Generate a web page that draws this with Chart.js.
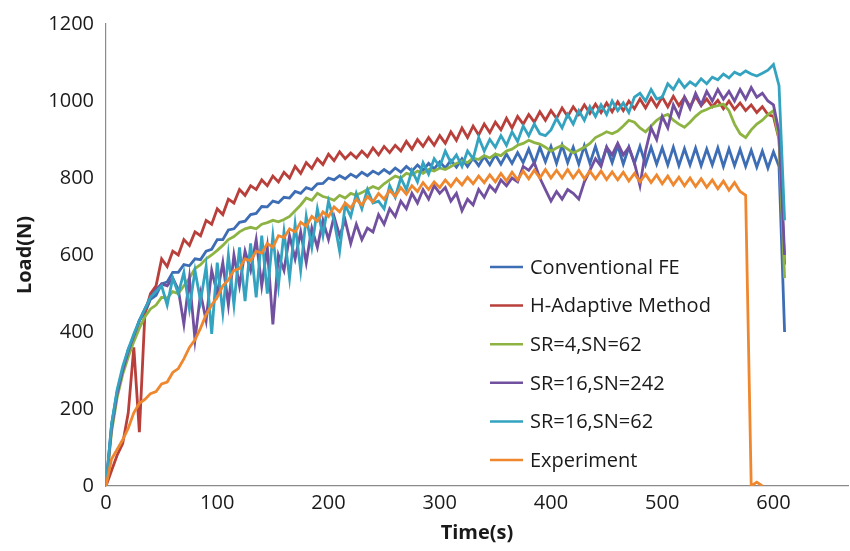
<!DOCTYPE html>
<html>
<head>
<meta charset="utf-8">
<script src="https://cdn.jsdelivr.net/npm/chart.js@4/dist/chart.umd.min.js"></script>
<style>
  body { margin: 0; background: #fff; }
  #wrap { width: 850px; height: 551px; }
</style>
</head>
<body>
<div id="wrap"><canvas id="loadChart"></canvas></div>
<script>
// time in seconds (5 s sampling)
var time = [
  0,5,10,15,20,25,30,35,40,45, 50,55,60,65,70,75,80,85,90,95,
  100,105,110,115,120,125,130,135,140,145, 150,155,160,165,170,175,180,185,190,195,
  200,205,210,215,220,225,230,235,240,245, 250,255,260,265,270,275,280,285,290,295,
  300,305,310,315,320,325,330,335,340,345, 350,355,360,365,370,375,380,385,390,395,
  400,405,410,415,420,425,430,435,440,445, 450,455,460,465,470,475,480,485,490,495,
  500,505,510,515,520,525,530,535,540,545, 550,555,560,565,570,575,580,585,590,595,
  600,605,610
];

var conventionalFE = [
  0,160,245,300,355,385,430,450,485,495,
  525,530,555,555,575,572,590,588,610,615,
  640,640,665,668,685,688,705,708,726,725,
  740,736,750,748,765,760,775,770,785,786,
  800,795,806,798,810,802,815,806,818,810,
  822,812,826,815,830,818,834,820,838,824,
  842,826,846,828,850,830,852,832,856,834,
  860,836,862,838,866,840,875,838,880,842,
  882,838,885,840,880,836,884,838,882,836,
  880,840,884,836,880,838,882,835,880,836,
  878,834,880,832,876,834,878,832,875,834,
  878,830,876,832,874,830,872,828,870,826,
  868,830,400
];

var hAdaptive = [
  0,40,80,110,190,360,140,450,500,520,
  590,570,610,600,640,625,660,650,690,680,
  720,705,745,735,770,755,780,770,795,780,
  805,790,815,800,830,812,840,825,850,835,
  862,845,868,850,865,852,870,855,878,860,
  882,866,885,870,895,875,900,882,905,885,
  910,890,920,898,930,905,935,912,940,918,
  945,925,955,930,960,940,965,945,972,950,
  975,955,982,960,985,965,990,968,992,970,
  995,972,998,975,1000,980,1005,982,1008,985,
  1010,985,1012,988,1010,985,1012,988,1005,985,
  1002,980,1000,978,995,975,990,970,985,965,
  960,900,575
];

var sr4sn62 = [
  0,140,230,290,335,375,410,440,460,470,
  490,488,505,500,520,540,565,575,590,600,
  612,625,640,648,660,668,672,668,680,684,
  690,686,692,700,715,730,748,742,760,752,
  748,742,755,748,760,755,762,770,778,772,
  785,795,805,800,812,808,818,812,822,818,
  826,822,830,838,845,840,852,848,858,852,
  862,858,870,875,885,890,898,892,888,880,
  870,878,885,875,865,872,880,890,905,912,
  920,915,922,935,950,945,930,920,935,950,
  960,965,950,940,932,945,960,972,978,985,
  988,992,975,940,915,905,925,940,950,965,
  975,900,540
];

var sr16sn242 = [
  0,150,240,300,350,390,430,460,490,510,
  525,520,540,510,420,540,380,500,430,560,
  500,580,470,600,520,610,560,640,520,620,
  420,600,560,650,590,660,580,670,620,690,
  640,700,650,690,630,680,640,670,660,705,
  680,720,700,740,720,760,735,770,745,780,
  760,775,740,760,715,745,730,770,750,780,
  765,795,780,800,790,830,820,840,800,770,
  740,765,745,770,760,745,790,820,850,830,
  880,860,890,860,880,840,780,870,930,900,
  960,930,990,960,1010,980,1020,990,1025,1000,
  1030,1005,1025,1000,1030,1005,1035,1010,1020,1000,
  990,920,600
];

var sr16sn62 = [
  0,160,250,310,355,395,430,460,490,505,
  520,470,540,500,555,460,560,480,570,395,
  580,450,600,470,620,480,630,490,650,500,
  650,520,660,540,680,560,700,620,720,650,
  740,690,610,730,700,760,720,770,735,740,
  720,780,750,800,770,820,790,840,810,850,
  830,870,840,860,830,870,850,905,870,900,
  880,910,885,920,895,935,910,940,915,910,
  925,955,930,965,940,975,950,985,960,990,
  965,1000,975,995,970,1010,1020,1000,1030,1005,
  1010,1045,1030,1055,1035,1050,1040,1058,1045,1062,
  1055,1070,1060,1075,1068,1078,1070,1065,1072,1080,
  1095,1040,690
];

var experiment = [
  0,70,95,120,150,190,215,225,240,245,
  265,270,295,305,330,360,380,410,445,470,
  490,520,535,560,565,590,585,610,605,630,
  620,650,645,668,660,685,675,700,688,712,
  700,725,712,735,722,745,730,752,738,760,
  745,768,752,775,758,780,765,788,770,790,
  775,795,778,798,782,802,785,805,788,808,
  790,812,792,815,795,818,798,820,800,822,
  800,820,800,822,800,820,798,818,798,818,
  796,816,795,815,792,812,790,810,788,808,
  785,805,782,802,780,800,778,798,776,795,
  772,792,768,788,765,755,0,10,0
];

var seriesNames = ["Conventional FE", "H-Adaptive Method", "SR=4,SN=62", "SR=16,SN=242", "SR=16,SN=62", "Experiment"];
var seriesColors = ["#3D6DB4", "#B83F3A", "#8DB443", "#7150A0", "#33A3C0", "#EF872E"];
var seriesValues = [conventionalFE, hAdaptive, sr4sn62, sr16sn242, sr16sn62, experiment];

var font = '"Open Sans", "Noto Sans", sans-serif';
var textColor = "#1a1a1a";
var axisColor = "#8a8a8a";

function toPoints(values) {
  return values.map((v, i) => ({ x: time[i], y: v }));
}

// legend drawn inside the plot, Excel style
var insideLegend = {
  id: "insideLegend",
  afterDatasetsDraw(chart) {
    var ctx = chart.ctx;
    var area = chart.chartArea;
    var x0 = area.left + 384;
    var y0 = area.top + 243;
    ctx.save();
    ctx.font = "20px " + font;
    ctx.textBaseline = "middle";
    chart.data.datasets.forEach((ds, i) => {
      var y = y0 + i * 38.6;
      ctx.strokeStyle = ds.borderColor;
      ctx.lineWidth = 2.5;
      ctx.beginPath();
      ctx.moveTo(x0, y);
      ctx.lineTo(x0 + 33, y);
      ctx.stroke();
      ctx.fillStyle = textColor;
      ctx.fillText(ds.label, x0 + 40, y + 1);
    });
    ctx.restore();
  }
};

var ctx = document.getElementById("loadChart").getContext("2d");
new Chart(ctx, {
  type: "line",
  data: {
    datasets: seriesValues.map((vals, i) => ({
      label: seriesNames[i],
      data: toPoints(vals),
      borderColor: seriesColors[i],
      backgroundColor: seriesColors[i],
      borderWidth: 2.8,
      pointRadius: 0,
      tension: 0,
      fill: false,
      order: seriesValues.length - i
    }))
  },
  options: {
    responsive: true,
    maintainAspectRatio: false,
    animation: false,
    layout: { padding: { top: 22, right: 2, left: 0, bottom: 0 } },
    plugins: {
      legend: { display: false },
      tooltip: { enabled: false }
    },
    scales: {
      x: {
        type: "linear",
        min: 0,
        max: 667,
        afterBuildTicks: (axis) => { axis.ticks = axis.ticks.filter((t) => t.value % 100 === 0); },
        afterFit: (axis) => { axis.height = 65; },
        grid: { display: false, drawTicks: false },
        border: { display: true, color: axisColor, width: 1.2 },
        ticks: { stepSize: 100, color: textColor, font: { family: font, size: 20 }, padding: 5, maxRotation: 0, callback: (v) => String(v) },
        title: { display: true, text: "Time(s)", color: textColor, font: { family: font, size: 20, weight: "bold" }, padding: { top: 0, bottom: 6 } }
      },
      y: {
        min: 0,
        max: 1200,
        afterFit: (axis) => { axis.width = 106; },
        grid: { display: false, drawTicks: false },
        border: { display: true, color: axisColor, width: 1.2 },
        ticks: { stepSize: 200, color: textColor, font: { family: font, size: 20 }, padding: 12, callback: (v) => String(v) },
        title: { display: true, text: "Load(N)", color: textColor, font: { family: font, size: 20, weight: "bold" }, padding: { top: 13, bottom: 0 } }
      }
    }
  },
  plugins: [insideLegend]
});
</script>
</body>
</html>
